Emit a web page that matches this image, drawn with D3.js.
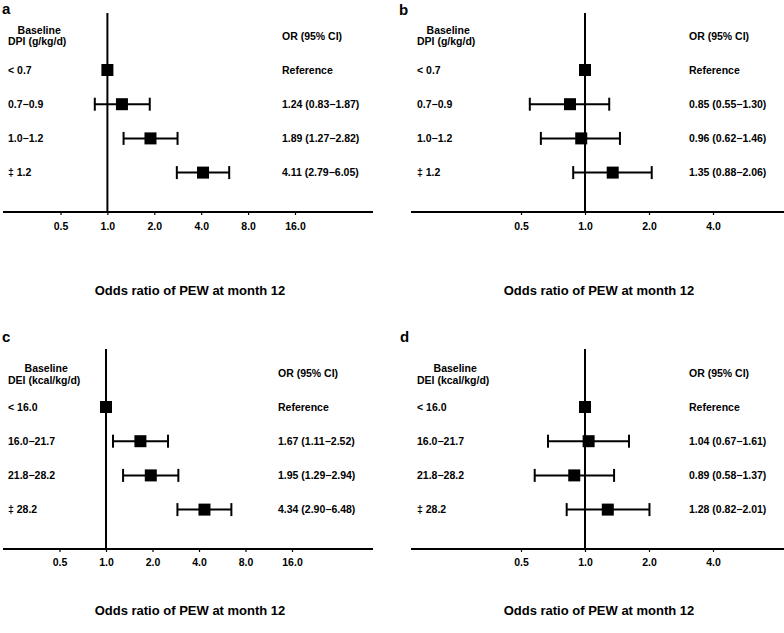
<!DOCTYPE html>
<html>
<head>
<meta charset="utf-8">
<script src="https://cdn.jsdelivr.net/npm/d3@7"></script>
<style>
  html, body { margin: 0; padding: 0; background: #fff; }
  svg text { font-family: "Liberation Sans", Arial, Helvetica, sans-serif; font-weight: bold; fill: #000; }
</style>
</head>
<body>
<svg id="chart" width="784" height="633"></svg>
<script>
// data for the four forest plots
const dpiGroups = ["< 0.7", "0.7\u22120.9", "1.0\u22121.2", "\u2021 1.2"];
const deiGroups = ["< 16.0", "16.0\u221221.7", "21.8\u221228.2", "\u2021 28.2"];

const orA = [1, 1.24, 1.89, 4.11];
const loA = [null, 0.83, 1.27, 2.79];
const hiA = [null, 1.87, 2.82, 6.05];

const orB = [1, 0.85, 0.96, 1.35];
const loB = [null, 0.55, 0.62, 0.88];
const hiB = [null, 1.30, 1.46, 2.06];

const orC = [1, 1.67, 1.95, 4.34];
const loC = [null, 1.11, 1.29, 2.90];
const hiC = [null, 2.52, 2.94, 6.48];

const orD = [1, 1.04, 0.89, 1.28];
const loD = [null, 0.67, 0.58, 0.82];
const hiD = [null, 1.61, 1.37, 2.01];

const ticksWide = [0.5, 1, 2, 4, 8, 16];
const ticksNarrow = [0.5, 1, 2, 4];

const svg = d3.select("#chart");
const fmt = d3.format(".2f");
const ciText = (o, l, h) => l == null ? "Reference" : `${fmt(o)} (${fmt(l)}\u2212${fmt(h)})`;

const panels = [
  { letter: "a", lx: 2, ly: 14, head: "DPI (g/kg/d)", groups: dpiGroups, or: orA, lo: loA, hi: hiA,
    ticks: ticksWide, dom: [0.5, 16], range: [60.5, 295], ax0: 3, ax1: 373,
    lineTop: 13, axisY: 212, row0: 70, hdr1: 33.5, hdr2: 45, orHdr: 39.5, tickY: 230,
    leftX: 8, rightX: 282, titleX: 190, titleY: 294.5 },
  { letter: "b", lx: 399, ly: 15, head: "DPI (g/kg/d)", groups: dpiGroups, or: orB, lo: loB, hi: hiB,
    ticks: ticksNarrow, dom: [0.5, 4], range: [521, 713], ax0: 411, ax1: 784,
    lineTop: 13, axisY: 212, row0: 70, hdr1: 33.5, hdr2: 45, orHdr: 39.5, tickY: 230,
    leftX: 417, rightX: 689, titleX: 599, titleY: 294.5 },
  { letter: "c", lx: 2, ly: 342, head: "DEI (kcal/kg/d)", groups: deiGroups, or: orC, lo: loC, hi: hiC,
    ticks: ticksWide, dom: [0.5, 16], range: [59.5, 292], ax0: 3, ax1: 373,
    lineTop: 349, axisY: 549, row0: 407, hdr1: 372, hdr2: 383.5, orHdr: 377, tickY: 566,
    leftX: 8, rightX: 278, titleX: 190, titleY: 614.5 },
  { letter: "d", lx: 400, ly: 342, head: "DEI (kcal/kg/d)", groups: deiGroups, or: orD, lo: loD, hi: hiD,
    ticks: ticksNarrow, dom: [0.5, 4], range: [521, 713], ax0: 411, ax1: 784,
    lineTop: 349, axisY: 549, row0: 407, hdr1: 372, hdr2: 383.5, orHdr: 377, tickY: 566,
    leftX: 417, rightX: 689, titleX: 599, titleY: 614.5 }
];

const rowStep = 34.2;
const box = 12;
const cap = 6.5;

panels.forEach(p => {
  const g = svg.append("g");
  const x = d3.scaleLog().base(2).domain(p.dom).range(p.range);
  const y = d3.scalePoint().domain(p.groups).range([p.row0, p.row0 + rowStep * 3]);

  const rows = p.groups.map((grp, i) => ({ grp, or: p.or[i], lo: p.lo[i], hi: p.hi[i] }));

  // panel letter
  g.append("text").attr("x", p.lx).attr("y", p.ly)
    .style("font-size", "15px").text(p.letter);

  // headers
  const h2 = g.append("text").attr("x", p.leftX).attr("y", p.hdr2)
    .style("font-size", "10.5px").text(p.head);
  const w2 = h2.node().getComputedTextLength();
  g.append("text").attr("x", p.leftX + w2 / 2 + 2).attr("y", p.hdr1)
    .attr("text-anchor", "middle").style("font-size", "10.5px").text("Baseline");
  g.append("text").attr("x", p.rightX).attr("y", p.orHdr)
    .style("font-size", "10.5px").text("OR (95% CI)");

  // x axis
  const axis = g.append("g").attr("transform", `translate(0,${p.axisY})`)
    .call(d3.axisBottom(x).tickValues(p.ticks).tickFormat(d3.format(".1f")).tickSize(3).tickPadding(6));
  axis.select(".domain").remove();
  axis.selectAll(".tick line").attr("stroke", "#000").attr("stroke-width", 1.2);
  axis.selectAll(".tick text").attr("y", null).attr("dy", null)
    .attr("transform", `translate(0,${p.tickY - p.axisY})`)
    .style("font-size", "10.5px").style("font-family", null);

  g.append("line").attr("x1", p.ax0).attr("x2", p.ax1)
    .attr("y1", p.axisY).attr("y2", p.axisY)
    .attr("stroke", "#000").attr("stroke-width", 2);

  // reference line at OR = 1
  g.append("line").attr("x1", x(1)).attr("x2", x(1))
    .attr("y1", p.lineTop).attr("y2", p.axisY)
    .attr("stroke", "#000").attr("stroke-width", 2);

  // row labels
  g.selectAll(".grp").data(rows).enter().append("text")
    .attr("class", "grp")
    .attr("x", p.leftX).attr("y", d => y(d.grp)).attr("dy", "0.36em")
    .style("font-size", "10.5px").text(d => d.grp);

  g.selectAll(".ci").data(rows).enter().append("text")
    .attr("class", "ci")
    .attr("x", p.rightX).attr("y", d => y(d.grp)).attr("dy", "0.36em")
    .style("font-size", "10.5px").text(d => ciText(d.or, d.lo, d.hi));

  // whiskers
  const ci = rows.filter(d => d.lo != null);
  g.selectAll(".whisk").data(ci).enter().append("line")
    .attr("x1", d => x(d.lo)).attr("x2", d => x(d.hi))
    .attr("y1", d => y(d.grp)).attr("y2", d => y(d.grp))
    .attr("stroke", "#000").attr("stroke-width", 2);
  ["lo", "hi"].forEach(k => {
    g.selectAll(".cap-" + k).data(ci).enter().append("line")
      .attr("x1", d => x(d[k])).attr("x2", d => x(d[k]))
      .attr("y1", d => y(d.grp) - cap).attr("y2", d => y(d.grp) + cap)
      .attr("stroke", "#000").attr("stroke-width", 2);
  });

  // point estimates
  g.selectAll(".pt").data(rows).enter().append("rect")
    .attr("x", d => x(d.or) - box / 2).attr("y", d => y(d.grp) - box / 2)
    .attr("width", box).attr("height", box).attr("fill", "#000");

  // x title
  g.append("text").attr("x", p.titleX).attr("y", p.titleY)
    .attr("text-anchor", "middle").style("font-size", "13px")
    .text("Odds ratio of PEW at month 12");
});
</script>
</body>
</html>
